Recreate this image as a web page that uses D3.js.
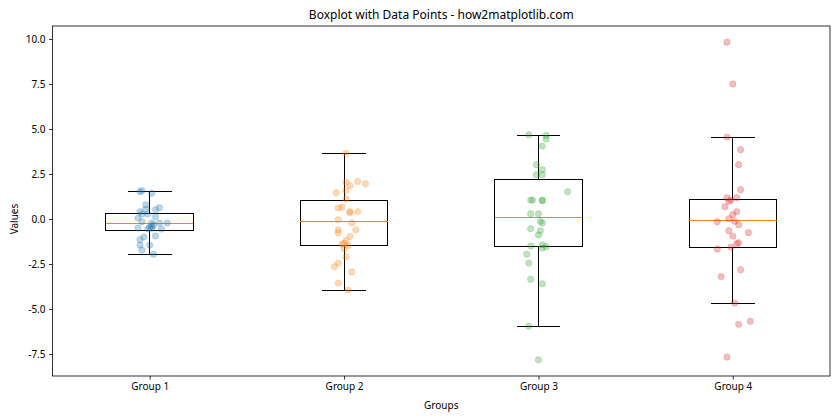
<!DOCTYPE html>
<html>
<head>
<meta charset="utf-8">
<script src="https://cdn.jsdelivr.net/npm/d3@7"></script>
<style>
  body { margin: 0; background: #fff; }
  svg text { font-family: "Noto Sans", "DejaVu Sans", sans-serif; fill: #000; }
</style>
</head>
<body>
<div id="chart"></div>
<script>
// categories
var groups = ["Group 1", "Group 2", "Group 3", "Group 4"];
var colors = ["#1f77b4", "#ff7f0e", "#2ca02c", "#d62728"];

// box statistics
var whiskerHigh = [1.54, 3.65, 4.66, 4.54];
var q3 = [0.32, 1.05, 2.22, 1.11];
var median = [-0.24, -0.15, 0.06, -0.11];
var q1 = [-0.63, -1.46, -1.54, -1.56];
var whiskerLow = [-1.96, -3.96, -5.96, -4.67];

// jittered points: x position (category units), value
var pts1 = [[0.95,1.52],[0.96,1.57],[1.01,1.43],[0.98,0.79],[0.98,0.55],[1.05,0.63],[1.03,0.52],[0.95,0.41],
  [0.96,0.28],[0.99,0.28],[1.03,0.13],[0.94,0.05],[0.96,-0.15],[1.01,-0.22],[1.05,-0.22],[1.09,-0.22],
  [1.02,-0.33],[0.94,-0.5],[1.0,-0.45],[1.01,-0.52],[1.06,-0.56],[1.03,-0.94],[0.97,-1.0],[0.95,-1.15],
  [0.95,-1.45],[1.0,-1.45],[0.96,-1.72],[1.02,-1.96],[1.01,-0.4],[0.99,-0.55]];
var pts2 = [[2.01,3.65],[2.07,2.09],[2.01,2.04],[2.11,1.96],[2.03,1.85],[2.01,1.59],[1.96,1.46],[2.01,1.11],
  [1.99,0.67],[1.97,0.61],[2.03,0.41],[2.03,0.35],[2.07,0.41],[1.97,-0.04],[2.04,-0.22],[2.06,-0.61],
  [1.97,-0.61],[1.97,-0.78],[2.03,-0.97],[2.01,-1.21],[2.0,-1.36],[2.02,-1.47],[2.0,-1.65],[2.01,-2.11],
  [1.97,-2.45],[1.95,-2.65],[2.04,-2.94],[1.97,-3.56],[2.02,-3.95],[1.99,-1.4]];
var pts3 = [[2.95,4.68],[3.04,4.64],[3.04,4.44],[3.02,4.05],[2.99,3.02],[3.02,2.74],[2.99,2.46],[3.02,2.46],
  [3.15,1.52],[2.96,1.05],[2.97,1.05],[3.02,1.05],[3.02,1.01],[2.96,0.29],[3.0,0.29],[3.01,-0.13],
  [3.02,-0.22],[2.96,-0.54],[3.01,-0.65],[3.0,-0.89],[2.96,-1.5],[3.02,-1.43],[3.02,-1.61],[3.04,-1.54],
  [2.94,-1.95],[2.95,-2.45],[2.96,-3.34],[3.02,-3.6],[2.95,-5.96],[3.0,-7.82]];
var pts4 = [[3.97,9.82],[4.0,7.5],[3.97,4.55],[4.04,3.85],[4.03,3.02],[4.04,1.63],[3.97,1.18],[4.02,1.18],
  [3.99,1.05],[3.98,0.98],[3.96,0.68],[4.02,0.41],[4.0,0.24],[3.98,0.02],[4.01,-0.13],[3.92,-0.15],
  [4.03,-0.32],[3.98,-0.65],[4.08,-0.76],[4.0,-0.95],[4.03,-1.32],[4.02,-1.37],[3.99,-1.56],[3.92,-1.67],
  [4.04,-2.82],[3.94,-3.2],[4.01,-4.67],[4.09,-5.68],[4.03,-5.85],[3.97,-7.67]];
var points = [pts1, pts2, pts3, pts4];

var yTicks = [-7.5, -5, -2.5, 0, 2.5, 5, 7.5, 10];

var W = 840, H = 420;
var m = {left: 52.5, right: 10, top: 26, bottom: 44};
var iw = W - m.left - m.right, ih = H - m.top - m.bottom;

var x = d3.scaleLinear().domain([0.5, 4.5]).range([0, iw]);
var y = d3.scaleLinear().domain([-8.72, 10.72]).range([ih, 0]);
var boxW = 0.45, capW = boxW / 2;

var svg = d3.select("#chart").append("svg").attr("width", W).attr("height", H);
var g = svg.append("g").attr("transform", "translate(" + m.left + "," + m.top + ")");

function seg(parent, x1, x2, y1, y2, col) {
  return parent.append("line").attr("x1", x1).attr("x2", x2).attr("y1", y1).attr("y2", y2)
    .attr("stroke", col).attr("stroke-width", 1).attr("shape-rendering", "crispEdges");
}

groups.forEach(function (name, i) {
  var c = i + 1;
  var bg = g.append("g");
  // whiskers
  seg(bg, x(c), x(c), y(q3[i]), y(whiskerHigh[i]), "#000");
  seg(bg, x(c), x(c), y(q1[i]), y(whiskerLow[i]), "#000");
  [whiskerHigh[i], whiskerLow[i]].forEach(function (v) {
    seg(bg, x(c - capW / 2), x(c + capW / 2), y(v), y(v), "#000");
  });
  // box
  bg.append("rect").attr("x", x(c - boxW / 2)).attr("y", y(q3[i]))
    .attr("width", x(c + boxW / 2) - x(c - boxW / 2)).attr("height", y(q1[i]) - y(q3[i]))
    .attr("fill", "none").attr("stroke", "#000").attr("stroke-width", 1).attr("shape-rendering", "crispEdges");
  seg(bg, x(c - boxW / 2), x(c + boxW / 2), y(median[i]), y(median[i]), "#ff7f0e");
  // points
  g.append("g").selectAll("circle").data(points[i]).enter().append("circle")
    .attr("cx", function (d) { return x(d[0]); })
    .attr("cy", function (d) { return y(d[1]); })
    .attr("r", 3.2)
    .attr("fill", colors[i]).attr("fill-opacity", 0.3)
    .attr("stroke", colors[i]).attr("stroke-opacity", 0.3).attr("stroke-width", 0.6);
});

// axes
var xAxis = d3.axisBottom(x).tickValues([1, 2, 3, 4]).tickFormat(function (d) { return groups[d - 1]; })
  .tickSize(3.5).tickPadding(3.5);
var yAxis = d3.axisLeft(y).tickValues(yTicks).tickFormat(function (d) { return d3.format(".1f")(d).replace("−", "-"); })
  .tickSize(3.5).tickPadding(3.5);
var gx = g.append("g").attr("transform", "translate(0," + ih + ")").call(xAxis);
var gy = g.append("g").call(yAxis);
[gx, gy].forEach(function (a) {
  a.select(".domain").remove();
  a.selectAll("text").attr("font-size", 10).attr("font-family", "Noto Sans, DejaVu Sans, sans-serif").attr("fill", "#000");
  a.selectAll("line").attr("stroke", "#000").attr("stroke-width", 0.8);
});

// frame
g.append("rect").attr("width", iw).attr("height", ih).attr("fill", "none").attr("stroke", "#000").attr("stroke-width", 0.8);

// labels
svg.append("text").attr("x", m.left + iw / 2).attr("y", 19).attr("text-anchor", "middle")
  .attr("font-size", 12).text("Boxplot with Data Points - how2matplotlib.com");
svg.append("text").attr("x", m.left + iw / 2).attr("y", 409).attr("text-anchor", "middle")
  .attr("font-size", 10).text("Groups");
svg.append("text").attr("transform", "translate(18," + (m.top + y(0)) + ") rotate(-90)").attr("text-anchor", "middle")
  .attr("font-size", 10).text("Values");
</script>
</body>
</html>
